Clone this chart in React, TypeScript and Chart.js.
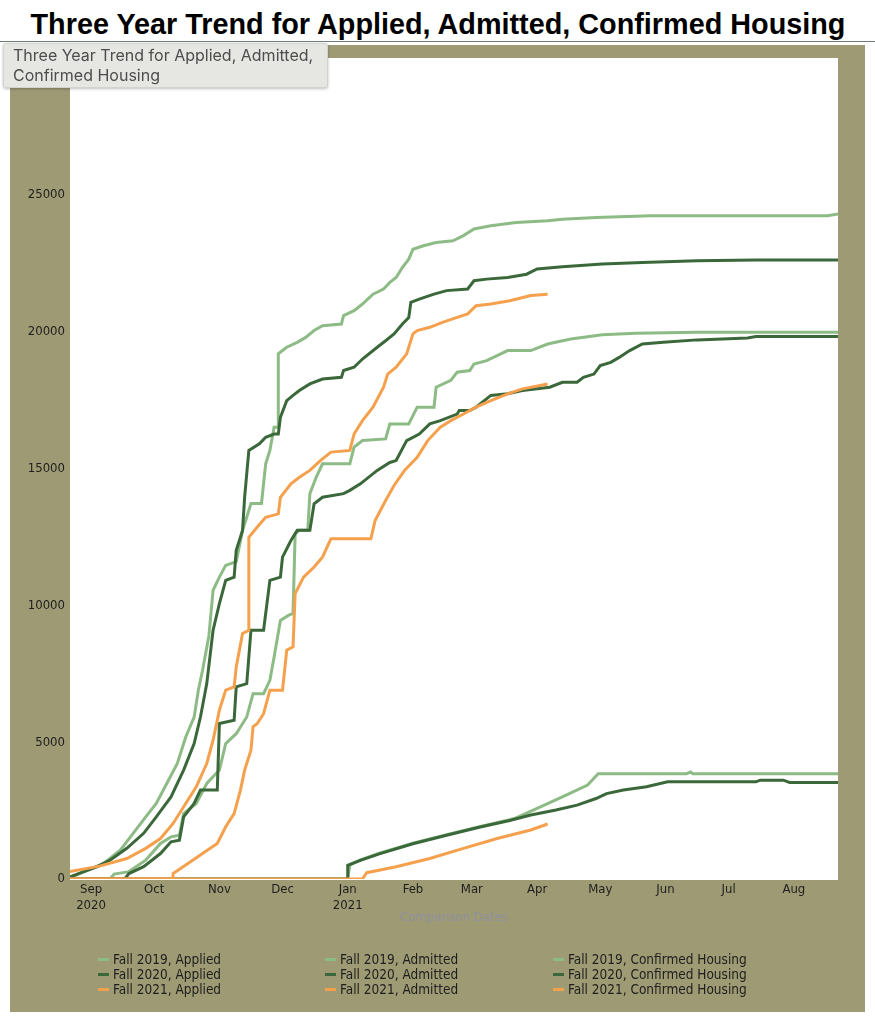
import React, { useEffect, useRef } from "react";
import { Chart, registerables } from "chart.js";

Chart.register(...registerables);

const FONT = '"DejaVu Sans Condensed", "Liberation Sans", Arial, sans-serif';

// ---------- axis definitions ----------
const axisStartDate = "2020-08-22";
const axisEndDate = "2021-08-22";
const monthTickDates = [
  "2020-09-01", "2020-10-01", "2020-11-01", "2020-12-01", "2021-01-01", "2021-02-01",
  "2021-03-01", "2021-04-01", "2021-05-01", "2021-06-01", "2021-07-01", "2021-08-01",
];
const monthTickLabels: (string | string[])[] = [
  ["Sep", "2020"], "Oct", "Nov", "Dec", ["Jan", "2021"], "Feb",
  "Mar", "Apr", "May", "Jun", "Jul", "Aug",
];
const yTickMin = 0;
const yTickMax = 30000;
const yTickStep = 5000;

const chartTitle = "Three Year Trend for Applied, Admitted, Confirmed Housing";
const xAxisTitle = "Comparison Dates";
const yearLabels = ["Fall 2019", "Fall 2020", "Fall 2021"];
const stageLabels = ["Applied", "Admitted", "Confirmed Housing"];
const yearColors = ["#8dbb85", "#3b683a", "#f5a04c"];

// ---------- series (comparison date, cumulative count) ----------
const fall2019Applied: [string, number][] = [
  ["2020-08-22", 50], ["2020-09-07", 570], ["2020-09-15", 1060], ["2020-09-21", 1670], ["2020-09-27", 2270],
  ["2020-10-02", 2760], ["2020-10-07", 3490], ["2020-10-12", 4220], ["2020-10-16", 5190], ["2020-10-20", 5920],
  ["2020-10-22", 6900], ["2020-10-24", 7630], ["2020-10-27", 8880], ["2020-10-29", 10550], ["2020-11-01", 11030],
  ["2020-11-04", 11460], ["2020-11-09", 11600], ["2020-11-12", 12740], ["2020-11-14", 13220], ["2020-11-16", 13720],
  ["2020-11-21", 13720], ["2020-11-22", 14440], ["2020-11-23", 15170], ["2020-11-25", 15660], ["2020-11-27", 16510],
  ["2020-11-29", 16510], ["2020-11-29", 19190], ["2020-12-03", 19430], ["2020-12-08", 19610], ["2020-12-12", 19790],
  ["2020-12-16", 20040], ["2020-12-20", 20220], ["2020-12-29", 20280], ["2020-12-30", 20590], ["2021-01-04", 20770],
  ["2021-01-08", 21010], ["2021-01-13", 21370], ["2021-01-18", 21560], ["2021-01-21", 21800], ["2021-01-24", 21980],
  ["2021-01-27", 22350], ["2021-01-30", 22650], ["2021-02-01", 23010], ["2021-02-06", 23140], ["2021-02-12", 23260],
  ["2021-02-20", 23320], ["2021-02-25", 23510], ["2021-03-02", 23750], ["2021-03-10", 23870], ["2021-03-22", 23990],
  ["2021-04-06", 24050], ["2021-04-13", 24110], ["2021-04-29", 24170], ["2021-05-25", 24240], ["2021-08-17", 24240],
  ["2021-08-22", 24300],
];
const fall2019Admitted: [string, number][] = [
  ["2020-08-22", 0], ["2020-09-10", 0], ["2020-09-12", 180], ["2020-09-19", 270], ["2020-09-27", 690],
  ["2020-10-04", 1300], ["2020-10-09", 1540], ["2020-10-13", 1600], ["2020-10-15", 2390], ["2020-10-21", 2760],
  ["2020-10-26", 3490], ["2020-11-01", 3980], ["2020-11-04", 4950], ["2020-11-09", 5310], ["2020-11-14", 5920],
  ["2020-11-17", 6770], ["2020-11-22", 6770], ["2020-11-25", 7260], ["2020-11-27", 8110], ["2020-11-30", 9450],
  ["2020-12-04", 9640], ["2020-12-06", 9700], ["2020-12-07", 12620], ["2020-12-09", 12740], ["2020-12-13", 12740],
  ["2020-12-14", 14080], ["2020-12-17", 14680], ["2020-12-20", 15170], ["2021-01-02", 15170], ["2021-01-04", 15780],
  ["2021-01-08", 16020], ["2021-01-19", 16080], ["2021-01-21", 16630], ["2021-01-30", 16630], ["2021-02-03", 17240],
  ["2021-02-11", 17240], ["2021-02-12", 17970], ["2021-02-19", 18220], ["2021-02-22", 18520], ["2021-02-28", 18580],
  ["2021-03-02", 18820], ["2021-03-08", 18940], ["2021-03-18", 19310], ["2021-03-29", 19310], ["2021-04-06", 19550],
  ["2021-04-17", 19730], ["2021-05-02", 19890], ["2021-05-18", 19940], ["2021-06-16", 19980], ["2021-08-22", 19980],
];
const fall2019Confirmed: [string, number][] = [
  ["2020-08-22", 0], ["2021-01-01", 0], ["2021-01-02", 520], ["2021-01-07", 700], ["2021-01-16", 940],
  ["2021-02-01", 1310], ["2021-02-17", 1620], ["2021-03-05", 1920], ["2021-03-19", 2170], ["2021-03-22", 2230],
  ["2021-04-01", 2580], ["2021-04-13", 3000], ["2021-04-25", 3430], ["2021-04-30", 3850], ["2021-06-11", 3850],
  ["2021-06-13", 3910], ["2021-06-14", 3850], ["2021-08-22", 3850],
];
const fall2020Applied: [string, number][] = [
  ["2020-08-22", 80], ["2020-09-04", 450], ["2020-09-10", 690], ["2020-09-18", 1120], ["2020-09-26", 1670],
  ["2020-10-02", 2270], ["2020-10-09", 3000], ["2020-10-15", 3980], ["2020-10-20", 4950], ["2020-10-23", 5920],
  ["2020-10-26", 7140], ["2020-10-29", 9090], ["2020-11-01", 10060], ["2020-11-04", 10910], ["2020-11-08", 11030],
  ["2020-11-09", 12010], ["2020-11-12", 12740], ["2020-11-13", 13950], ["2020-11-15", 15660], ["2020-11-20", 15900],
  ["2020-11-23", 16140], ["2020-11-27", 16260], ["2020-11-29", 16260], ["2020-11-30", 16870], ["2020-12-03", 17480],
  ["2020-12-06", 17670], ["2020-12-09", 17850], ["2020-12-14", 18090], ["2020-12-20", 18270], ["2020-12-29", 18330],
  ["2020-12-30", 18580], ["2021-01-04", 18700], ["2021-01-08", 19000], ["2021-01-15", 19430], ["2021-01-19", 19670],
  ["2021-01-23", 19920], ["2021-01-27", 20280], ["2021-01-30", 20520], ["2021-01-31", 21070], ["2021-02-04", 21190],
  ["2021-02-11", 21370], ["2021-02-17", 21500], ["2021-02-27", 21560], ["2021-03-02", 21860], ["2021-03-08", 21920],
  ["2021-03-18", 21980], ["2021-03-27", 22100], ["2021-04-01", 22290], ["2021-04-13", 22370], ["2021-05-02", 22470],
  ["2021-05-21", 22530], ["2021-06-16", 22590], ["2021-07-14", 22620], ["2021-08-22", 22620],
];
const fall2020Admitted: [string, number][] = [
  ["2020-08-22", 0], ["2020-09-17", 0], ["2020-09-19", 200], ["2020-09-26", 450], ["2020-10-04", 930],
  ["2020-10-09", 1360], ["2020-10-13", 1420], ["2020-10-15", 2270], ["2020-10-20", 2760], ["2020-10-23", 3250],
  ["2020-10-31", 3250], ["2020-11-01", 5680], ["2020-11-08", 5800], ["2020-11-09", 7020], ["2020-11-14", 7140],
  ["2020-11-16", 9090], ["2020-11-22", 9090], ["2020-11-25", 10910], ["2020-11-30", 11030], ["2020-12-01", 11760],
  ["2020-12-05", 12370], ["2020-12-08", 12740], ["2020-12-14", 12740], ["2020-12-16", 13710], ["2020-12-20", 13950],
  ["2020-12-30", 14080], ["2021-01-02", 14200], ["2021-01-07", 14440], ["2021-01-15", 14930], ["2021-01-21", 15220],
  ["2021-01-24", 15290], ["2021-01-29", 16020], ["2021-02-04", 16260], ["2021-02-09", 16630], ["2021-02-14", 16750],
  ["2021-02-22", 16990], ["2021-02-23", 17120], ["2021-02-28", 17120], ["2021-03-03", 17240], ["2021-03-10", 17670],
  ["2021-03-18", 17730], ["2021-03-25", 17850], ["2021-04-07", 17970], ["2021-04-13", 18150], ["2021-04-20", 18150],
  ["2021-04-23", 18330], ["2021-04-28", 18450], ["2021-05-01", 18760], ["2021-05-06", 18880], ["2021-05-10", 19060],
  ["2021-05-15", 19310], ["2021-05-21", 19550], ["2021-05-31", 19610], ["2021-06-16", 19700], ["2021-07-10", 19770],
  ["2021-07-14", 19820], ["2021-08-22", 19820],
];
const fall2020Confirmed: [string, number][] = [
  ["2020-08-22", 0], ["2021-01-01", 0], ["2021-01-01", 500], ["2021-01-07", 680], ["2021-01-16", 920],
  ["2021-02-01", 1290], ["2021-02-17", 1600], ["2021-03-05", 1900], ["2021-03-19", 2140], ["2021-03-29", 2340],
  ["2021-04-10", 2520], ["2021-04-20", 2700], ["2021-04-29", 2940], ["2021-05-04", 3120], ["2021-05-12", 3250],
  ["2021-05-23", 3370], ["2021-06-02", 3550], ["2021-07-14", 3550], ["2021-07-16", 3610], ["2021-07-27", 3610],
  ["2021-07-30", 3530], ["2021-08-22", 3530],
];
const fall2021Applied: [string, number][] = [
  ["2020-08-22", 270], ["2020-09-05", 470], ["2020-09-18", 750], ["2020-09-27", 1120], ["2020-10-04", 1480],
  ["2020-10-10", 2030], ["2020-10-16", 2760], ["2020-10-21", 3370], ["2020-10-26", 4220], ["2020-10-29", 5070],
  ["2020-11-01", 6170], ["2020-11-04", 6900], ["2020-11-08", 7020], ["2020-11-09", 7750], ["2020-11-12", 8970],
  ["2020-11-15", 9090], ["2020-11-15", 12490], ["2020-11-19", 12860], ["2020-11-23", 13220], ["2020-11-29", 13340],
  ["2020-11-30", 13950], ["2020-12-05", 14440], ["2020-12-09", 14680], ["2020-12-14", 14930], ["2020-12-19", 15290],
  ["2020-12-24", 15600], ["2021-01-02", 15660], ["2021-01-04", 16260], ["2021-01-08", 16750], ["2021-01-13", 17240],
  ["2021-01-18", 17970], ["2021-01-20", 18450], ["2021-01-24", 18700], ["2021-01-29", 19190], ["2021-02-01", 19920],
  ["2021-02-03", 20040], ["2021-02-09", 20160], ["2021-02-15", 20340], ["2021-02-22", 20520], ["2021-02-27", 20650],
  ["2021-03-03", 20950], ["2021-03-10", 21010], ["2021-03-19", 21130], ["2021-03-29", 21320], ["2021-04-06", 21370],
];
const fall2021Admitted: [string, number][] = [
  ["2020-08-22", 0], ["2020-10-10", 0], ["2020-10-10", 200], ["2020-10-16", 510], ["2020-10-24", 930],
  ["2020-10-31", 1300], ["2020-11-04", 1910], ["2020-11-08", 2390], ["2020-11-11", 3250], ["2020-11-13", 3980],
  ["2020-11-16", 4710], ["2020-11-17", 5560], ["2020-11-19", 5680], ["2020-11-22", 6040], ["2020-11-25", 6900],
  ["2020-12-01", 6900], ["2020-12-03", 8360], ["2020-12-06", 8480], ["2020-12-07", 10430], ["2020-12-11", 11030],
  ["2020-12-16", 11400], ["2020-12-20", 11760], ["2020-12-24", 12430], ["2021-01-12", 12430], ["2021-01-14", 13100],
  ["2021-01-19", 13830], ["2021-01-23", 14380], ["2021-01-28", 14930], ["2021-02-03", 15410], ["2021-02-08", 16020],
  ["2021-02-14", 16510], ["2021-02-19", 16750], ["2021-02-25", 16990], ["2021-03-03", 17240], ["2021-03-10", 17480],
  ["2021-03-18", 17730], ["2021-03-25", 17910], ["2021-04-06", 18090],
];
const fall2021Confirmed: [string, number][] = [
  ["2020-08-22", 0], ["2021-01-08", 0], ["2021-01-10", 230], ["2021-01-24", 450], ["2021-02-09", 750],
  ["2021-02-25", 1120], ["2021-03-13", 1480], ["2021-03-29", 1790], ["2021-04-06", 2010],
];

// ---------- helpers ----------
const toUTC = (d: string) => {
  const [y, m, dd] = d.split("-").map(Number);
  return Date.UTC(y, m - 1, dd);
};
const dayOf = (d: string) => (toUTC(d) - toUTC(axisStartDate)) / 86400000;
const monthTickDays = monthTickDates.map(dayOf);

const seriesTable = [
  [fall2019Applied, fall2019Admitted, fall2019Confirmed],
  [fall2020Applied, fall2020Admitted, fall2020Confirmed],
  [fall2021Applied, fall2021Admitted, fall2021Confirmed],
];
const drawOrder = [2, 1, 0];

const plotBackground = {
  id: "plotBackground",
  beforeDraw(chart: any) {
    const { ctx, chartArea } = chart;
    ctx.save();
    ctx.fillStyle = "#ffffff";
    ctx.fillRect(chartArea.left, chartArea.top, chartArea.right - chartArea.left, chartArea.bottom - chartArea.top + 1);
    ctx.restore();
  },
};

const gridLegend = {
  id: "gridLegend",
  afterDraw(chart: any) {
    const { ctx } = chart;
    const colX = [103, 330, 558];
    const rowY = [914, 929, 944];
    ctx.save();
    ctx.font = `13.5px ${FONT}`;
    ctx.textBaseline = "middle";
    ctx.textAlign = "left";
    chart.data.datasets.forEach((ds: any, i: number) => {
      const row = Math.floor(i / 3);
      const col = i % 3;
      const x = colX[col];
      const y = rowY[row];
      ctx.strokeStyle = ds.borderColor;
      ctx.lineWidth = 3;
      ctx.beginPath();
      ctx.moveTo(x - 15, y + 0.5);
      ctx.lineTo(x - 4, y + 0.5);
      ctx.stroke();
      ctx.fillStyle = "#1e1e1e";
      ctx.fillText(ds.label, x, y + 1);
    });
    ctx.restore();
  },
};

export default function App() {
  const canvasRef = useRef<HTMLCanvasElement | null>(null);

  useEffect(() => {
    const datasets: any[] = [];
    yearLabels.forEach((yl, yi) => {
      stageLabels.forEach((sl, si) => {
        datasets.push({
          label: `${yl}, ${sl}`,
          data: seriesTable[yi][si].map(([d, v]) => ({ x: dayOf(d), y: v })),
          borderColor: yearColors[yi],
          backgroundColor: yearColors[yi],
          borderWidth: 3,
          pointRadius: 0,
          pointHoverRadius: 0,
          tension: 0,
          fill: false,
          order: drawOrder[yi],
        });
      });
    });

    const chart = new Chart(canvasRef.current as HTMLCanvasElement, {
      type: "line",
      data: { datasets },
      plugins: [plotBackground, gridLegend],
      options: {
        animation: false,
        responsive: false,
        maintainAspectRatio: false,
        devicePixelRatio: 1,
        events: [],
        layout: { padding: { top: 13, right: 27, bottom: 73, left: 0 } },
        plugins: {
          legend: { display: false },
          tooltip: { enabled: false },
          title: { display: false },
        },
        scales: {
          x: {
            type: "linear",
            min: 0,
            max: dayOf(axisEndDate),
            grid: { display: false, drawTicks: false, tickLength: 0 },
            border: { display: false },
            afterBuildTicks: (scale: any) => {
              scale.ticks = monthTickDays.map((v) => ({ value: v }));
            },
            afterFit: (scale: any) => {
              scale.height = 60;
            },
            ticks: {
              autoSkip: false,
              maxRotation: 0,
              minRotation: 0,
              padding: 3,
              color: "#1e1e1e",
              font: { family: FONT, size: 13 },
              callback: (value: any) => {
                const idx = monthTickDays.indexOf(Number(value));
                return idx >= 0 ? monthTickLabels[idx] : "";
              },
            },
            title: {
              display: true,
              text: xAxisTitle,
              color: "#8e90a0",
              font: { family: FONT, size: 13 },
              padding: { top: 0, bottom: 14 },
            },
          },
          y: {
            type: "linear",
            min: yTickMin,
            max: yTickMax,
            grid: { display: false, drawTicks: false, tickLength: 0 },
            border: { display: false },
            afterFit: (scale: any) => {
              scale.width = 60;
            },
            ticks: {
              stepSize: yTickStep,
              padding: 5,
              color: "#1e1e1e",
              font: { family: FONT, size: 13 },
              callback: (value: any) => String(value),
            },
          },
        },
      },
    } as any);

    return () => chart.destroy();
  }, []);

  return (
    <div style={{ position: "absolute", left: 0, top: 0, width: 875, height: 1024, background: "#ffffff", overflow: "hidden" }}>
      <div
        style={{
          position: "absolute",
          left: 0,
          top: 7,
          width: 876,
          textAlign: "center",
          fontFamily: '"Liberation Sans", Arial, sans-serif',
          fontWeight: 700,
          fontSize: 28.8,
          lineHeight: "34px",
          color: "#000000",
          whiteSpace: "nowrap",
        }}
      >
        {chartTitle}
      </div>
      <div style={{ position: "absolute", left: 0, top: 41, width: 875, height: 1, background: "#6f7a76" }} />
      <div style={{ position: "absolute", left: 10, top: 45, width: 855, height: 967, background: "#9e9a74" }}>
        <canvas ref={canvasRef} width={855} height={967} style={{ display: "block", width: 855, height: 967 }} />
      </div>
      <div
        style={{
          position: "absolute",
          left: 3,
          top: 43,
          width: 325,
          height: 45,
          boxSizing: "border-box",
          background: "#e6e6e3",
          border: "1px solid #d2d2ce",
          borderRadius: 3,
          boxShadow: "0 1px 3px rgba(0,0,0,0.25)",
          padding: "1px 0 0 9px",
          fontFamily: 'Inter, "Liberation Sans", Arial, sans-serif',
          fontSize: 16,
          lineHeight: "20px",
          color: "#4d4d4d",
          zIndex: 2,
          whiteSpace: "nowrap",
        }}
      >
        Three Year Trend for Applied, Admitted,
        <br />
        Confirmed Housing
      </div>
    </div>
  );
}
